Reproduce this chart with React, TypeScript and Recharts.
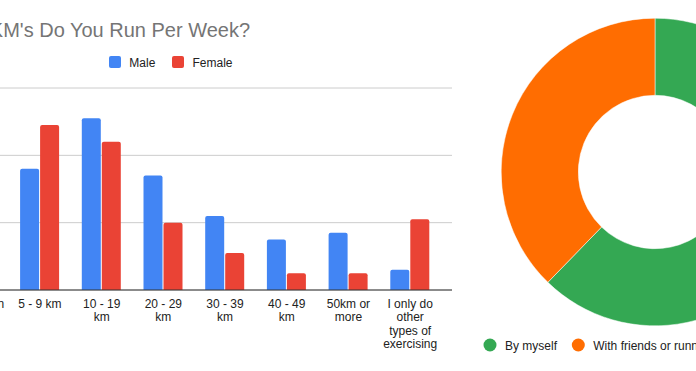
import React from "react"
import { BarChart, Bar, XAxis, YAxis, CartesianGrid, PieChart, Pie, Cell } from "recharts"

// bar chart: how far people run each week, split by gender
const distances = [
  "Less than 5 km",
  "5 - 9 km",
  "10 - 19 km",
  "20 - 29 km",
  "30 - 39 km",
  "40 - 49 km",
  "50km or more",
  "I only do other types of exercising",
]
const maleCounts = [20, 36, 51, 34, 22, 15, 17, 6]
const femaleCounts = [28, 49, 44, 20, 11, 5, 5, 21]
const yTicks = [0, 20, 40, 60]

// donut: who people run with
const companyLabels = ["By myself", "With friends or running groups"]
const companyCounts = [33, 20]

const BLUE = "#4285f4"
const RED = "#ea4335"
const PIE_COLORS = ["#34a853", "#ff6d01"]
const FONT = "Arial, 'Liberation Sans', sans-serif"

const barData = distances.map((name, i) => ({
  name,
  male: maleCounts[i],
  female: femaleCounts[i],
}))

const pieData = companyLabels.map((name, i) => ({ name, value: companyCounts[i] }))

let ctx: CanvasRenderingContext2D | null = null
function measure(s: string) {
  if (!ctx) {
    ctx = document.createElement("canvas").getContext("2d")
    if (ctx) ctx.font = "12px 'Liberation Sans', Arial"
  }
  return ctx ? ctx.measureText(s).width : s.length * 6.5
}

// greedy word wrap, like the sheets chart does for long category names
function wrapLabel(label: string, maxWidth: number) {
  const words = label.split(" ")
  const lines: string[] = []
  let cur = ""
  words.forEach((w) => {
    const next = cur ? cur + " " + w : w
    if (cur && measure(next) > maxWidth) {
      lines.push(cur)
      cur = w
    } else {
      cur = next
    }
  })
  if (cur) lines.push(cur)
  return lines
}

function WrappedTick({ x, y, payload }: any) {
  const lines = wrapLabel(String(payload.value), 55)
  return (
    <text x={x} y={y} textAnchor="middle" fill="#222" fontSize={12} fontFamily={FONT}>
      {lines.map((line, i) => (
        <tspan key={i} x={x} dy={i === 0 ? 17.6 : 13.6}>
          {line}
        </tspan>
      ))}
    </text>
  )
}

export default function App() {
  return (
    <div
      style={{
        position: "fixed",
        left: 0,
        top: 0,
        width: 696,
        height: 371,
        overflow: "hidden",
        background: "#fff",
        fontFamily: FONT,
      }}
    >
      <div style={{ position: "absolute", left: -100, top: 0 }}>
        <BarChart
          width={560}
          height={371}
          data={barData}
          margin={{ top: 88, right: 8, bottom: 0, left: 47.4 }}
          barSize={19}
          barGap={1}
        >
          <CartesianGrid vertical={false} stroke="#cccccc" />
          {/* value labels sit off the left edge of the crop */}
          <YAxis hide domain={[0, 60]} ticks={yTicks} />
          <XAxis
            dataKey="name"
            height={81}
            interval={0}
            padding={{ left: 0, right: 11 }}
            tickLine={false}
            tickSize={0}
            tickMargin={0}
            axisLine={{ stroke: "#333333" }}
            tick={<WrappedTick />}
          />
          <Bar dataKey="male" fill={BLUE} radius={[2, 2, 0, 0]} isAnimationActive={false} />
          <Bar dataKey="female" fill={RED} radius={[2, 2, 0, 0]} isAnimationActive={false} />
        </BarChart>
      </div>

      <svg width={460} height={80} style={{ position: "absolute", left: 0, top: 0 }}>
        <text x={-110.2} y={37.3} fontSize={20} fill="#757575" fontFamily={FONT}>
          How Many KM's Do You Run Per Week?
        </text>
        <rect x={109} y={56} width={12} height={12} rx={2} fill={BLUE} />
        <text x={129.3} y={66.5} fontSize={12} fill="#222" fontFamily={FONT}>
          Male
        </text>
        <rect x={172} y={56} width={12} height={12} rx={2} fill={RED} />
        <text x={192.5} y={66.5} fontSize={12} fill="#222" fontFamily={FONT}>
          Female
        </text>
      </svg>

      <div style={{ position: "absolute", left: 494.5, top: 12 }}>
        <PieChart width={320} height={320} margin={{ top: 0, right: 0, bottom: 0, left: 0 }}>
          <Pie
            data={pieData}
            dataKey="value"
            cx={160}
            cy={160}
            innerRadius={76.7}
            outerRadius={153.8}
            startAngle={90}
            endAngle={-270}
            stroke="#fff"
            strokeWidth={0.5}
            isAnimationActive={false}
          >
            {pieData.map((entry, i) => (
              <Cell key={entry.name} fill={PIE_COLORS[i]} />
            ))}
          </Pie>
        </PieChart>
      </div>

      <svg width={236} height={30} style={{ position: "absolute", left: 460, top: 330 }}>
        <circle cx={30} cy={15} r={6.5} fill={PIE_COLORS[0]} />
        <text x={45} y={19.5} fontSize={12} fill="#222" fontFamily={FONT}>
          {companyLabels[0]}
        </text>
        <circle cx={118.3} cy={15} r={6.5} fill={PIE_COLORS[1]} />
        <text x={133.3} y={19.5} fontSize={12} fill="#222" fontFamily={FONT}>
          {companyLabels[1]}
        </text>
      </svg>
    </div>
  )
}
